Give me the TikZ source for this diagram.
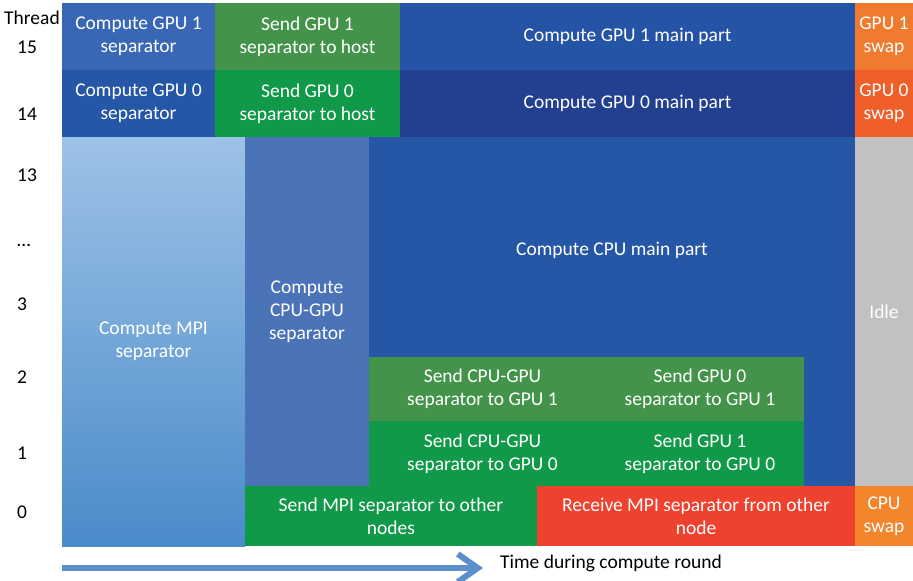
\documentclass[tikz,border=0pt]{standalone}
\usepackage{fontspec}
\setmainfont{Carlito}
\usepackage{pgf,tikz,xcolor}
\usetikzlibrary{calc,positioning,arrows.meta}
\definecolor{gpuA}{HTML}{3A67B5}
\definecolor{gpuB}{HTML}{2656A6}
\definecolor{mainA}{HTML}{2553A5}
\definecolor{mainB}{HTML}{233F8F}
\definecolor{cpumain}{HTML}{2557A6}
\definecolor{cgsep}{HTML}{4A73B8}
\definecolor{sendA}{HTML}{43944A}
\definecolor{sendB}{HTML}{11994A}
\definecolor{swapA}{HTML}{F07A2E}
\definecolor{swapB}{HTML}{F05E2A}
\definecolor{swapC}{HTML}{F3852D}
\definecolor{recv}{HTML}{EE412E}
\definecolor{idle}{HTML}{C0C1C0}
\definecolor{mpitop}{HTML}{9DC2E6}
\definecolor{mpibot}{HTML}{4A8BCA}
\definecolor{timearrow}{HTML}{5B8FCB}
\tikzset{
    blk/.style={ % one task in the schedule
        inner sep=0pt,
        outer sep=0pt,
        align=center,
        text=white,
        font=\fontsize{19.5}{23}\selectfont
    },
    threadlbl/.style={
        anchor=west,
        inner sep=0pt,
        font=\fontsize{19.5}{23}\selectfont
    }
}
\begin{document}
\begin{tikzpicture}[x=1pt,y=-1pt]
        \useasboundingbox (0,0) rectangle (913,581);
        \def\rowh{67}
        % GPU threads
        \node[blk,anchor=north west,fill=gpuA,minimum width=153pt,minimum height=\rowh pt] (gAsep) at (62,3) {Compute GPU 1\\separator};
        \node[blk,right=0pt of gAsep,fill=sendA,minimum width=185pt,minimum height=\rowh pt] (gAsend) {Send GPU 1\\separator to host};
        \node[blk,right=0pt of gAsend,fill=mainA,minimum width=455pt,minimum height=\rowh pt] (gAmain) {Compute GPU 1 main part};
        \node[blk,right=0pt of gAmain,fill=swapA,minimum width=58pt,minimum height=\rowh pt] (gAswap) {GPU 1\\swap};
        
        \node[blk,below=0pt of gAsep,fill=gpuB,minimum width=153pt,minimum height=\rowh pt] (gBsep) {Compute GPU 0\\separator};
        \node[blk,right=0pt of gBsep,fill=sendB,minimum width=185pt,minimum height=\rowh pt] (gBsend) {Send GPU 0\\separator to host};
        \node[blk,right=0pt of gBsend,fill=mainB,minimum width=455pt,minimum height=\rowh pt] (gBmain) {Compute GPU 0 main part};
        \node[blk,right=0pt of gBmain,fill=swapB,minimum width=58pt,minimum height=\rowh pt] (gBswap) {GPU 0\\swap};
        
        % CPU threads
        \node[blk,anchor=north west,top color=mpitop,bottom color=mpibot,minimum width=183pt,minimum height=409pt] (mpisep) at (62,137) {Compute MPI\\separator};
        \node[blk,anchor=north west,fill=cgsep,minimum width=124pt,minimum height=349pt] (cgsep) at (245,137) {Compute\\CPU-GPU\\separator};
        \node[blk,anchor=north west,fill=cpumain,minimum width=486pt,minimum height=349pt,
            label={[blk,anchor=center,yshift=-113pt]north:Compute CPU main part}] (cpumain) at (369,137) {};
        \node[blk,anchor=north west,fill=idle,minimum width=58pt,minimum height=349pt] (idle) at (855,137) {Idle};
        
        \node[blk,anchor=north west,fill=sendA,minimum width=227pt,minimum height=64pt] (cgA) at (369,357) {Send CPU-GPU\\separator to GPU 1};
        \node[blk,right=0pt of cgA,fill=sendA,minimum width=208pt,minimum height=64pt] (gBtoA) {Send GPU 0\\separator to GPU 1};
        \node[blk,anchor=north west,fill=sendB,minimum width=227pt,minimum height=65pt] (cgB) at (369,421) {Send CPU-GPU\\separator to GPU 0};
        \node[blk,right=0pt of cgB,fill=sendB,minimum width=208pt,minimum height=65pt] (gAtoB) {Send GPU 1\\separator to GPU 0};
        
        \node[blk,anchor=north west,fill=sendB,minimum width=292pt,minimum height=60pt] (mpisend) at (245,486) {Send MPI separator to other\\nodes};
        \node[blk,right=0pt of mpisend,fill=recv,minimum width=318pt,minimum height=60pt] (mpirecv) {Receive MPI separator from other\\node};
        \node[blk,right=0pt of mpirecv,fill=swapC,minimum width=58pt,minimum height=60pt] (cpuswap) {CPU\\swap};
        
        % thread numbers
        \node[threadlbl] (thr) at (4,18) {Thread};
        \foreach \t/\y in {15/47,14/114,13/175,3/304,2/377,1/453,0/512}
            \node[threadlbl] (t\t) at (17,\y) {\t};
        \node[threadlbl] (tdots) at (17,245) {…};
        
        % time axis
        \coordinate (tstart) at (62,568);
        \coordinate (tend) at (483,568);
        \draw[timearrow,line width=6pt,-{Straight Barb[length=20pt,width=28pt]}] (tstart) -- (tend);
        \node[threadlbl] (timelbl) at (500,563) {Time during compute round};
    \end{tikzpicture}
\end{document}
